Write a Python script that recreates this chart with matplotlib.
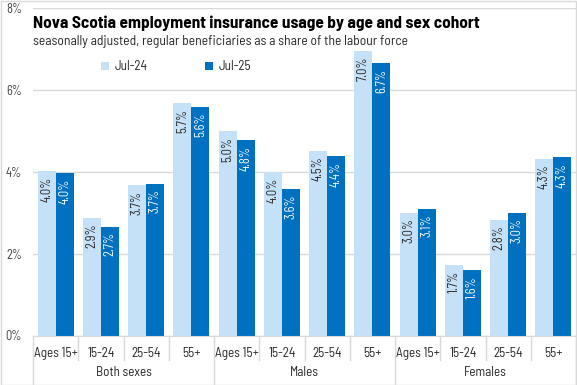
import matplotlib
matplotlib.use("Agg")
import matplotlib.pyplot as plt
import matplotlib.transforms as mtransforms
from matplotlib.patches import Patch, Rectangle
import numpy as np

groups = ["Both sexes", "Males", "Females"]
ages = ["Ages 15+", "15-24", "25-54", "55+"]
series_names = ["Jul-24", "Jul-25"]
jul24 = [4.02, 2.88, 3.68, 5.68, 5.0, 4.0, 4.51, 6.95, 3.0, 1.73, 2.83, 4.32]
jul25 = [3.98, 2.66, 3.71, 5.58, 4.78, 3.58, 4.39, 6.65, 3.1, 1.59, 3.0, 4.35]
labels24 = ["4.0%", "2.9%", "3.7%", "5.7%", "5.0%", "4.0%", "4.5%", "7.0%", "3.0%", "1.7%", "2.8%", "4.3%"]
labels25 = ["4.0%", "2.7%", "3.7%", "5.6%", "4.8%", "3.6%", "4.4%", "6.7%", "3.1%", "1.6%", "3.0%", "4.3%"]
yticks = [0, 2, 4, 6, 8]
ytick_labels = ["0%", "2%", "4%", "6%", "8%"]

c_light = "#C5E1F8"
c_dark = "#0070C0"
FONT = ["Bahnschrift", "Barlow Semi Condensed", "Asap Condensed", "DejaVu Sans"]
plt.rcParams['font.family'] = FONT

W, H = 577, 385
fig = plt.figure(figsize=(W / 100, H / 100), dpi=100)
ax = fig.add_axes([33 / W, (H - 335.5) / H, (576 - 33) / W, (335.5 - 8) / H])

n = len(jul24)
x = np.arange(n)
bw = 0.4
b1 = ax.bar(x - bw / 2, jul24, bw, color=c_light, label=series_names[0], zorder=2)
b2 = ax.bar(x + bw / 2, jul25, bw, color=c_dark, label=series_names[1], zorder=2)

for rect, lab in zip(b1, labels24):
    ax.text(rect.get_x() + rect.get_width() / 2, rect.get_height() - 0.14, lab,
            rotation=90, ha="center", va="top", fontsize=9, color="#262626", zorder=3)
for rect, lab in zip(b2, labels25):
    ax.text(rect.get_x() + rect.get_width() / 2, rect.get_height() - 0.14, lab,
            rotation=90, ha="center", va="top", fontsize=9, color="white", zorder=3)

ax.set_xlim(-0.5, n - 0.5)
ax.set_ylim(0, 8)
ax.set_yticks(yticks)
ax.set_yticklabels(ytick_labels, fontsize=9, color="#404040")
ax.yaxis.grid(True, color="#D9D9D9", linewidth=1, zorder=0)
ax.set_axisbelow(True)
for s in ["top", "right", "left"]:
    ax.spines[s].set_visible(False)
ax.spines["bottom"].set_color("#D9D9D9")
ax.tick_params(axis="y", length=0, pad=8)
ax.tick_params(axis="x", length=0, pad=8)
ax.set_xticks(x)
ax.set_xticklabels(ages * len(groups), fontsize=9.5, color="#262626")

trans = mtransforms.blended_transform_factory(ax.transData, ax.transAxes)
ax_h_px = 335.5 - 8
short = -(360 - 335.5) / ax_h_px
long_ = -(385 - 335.5) / ax_h_px
for i in range(n + 1):
    xb = i - 0.5
    y0 = long_ if i % 4 == 0 else short
    ax.plot([xb, xb], [0, y0], transform=trans, color="#D9D9D9", lw=1, clip_on=False)
for g, name in enumerate(groups):
    ax.text(g * 4 + 1.5, -(373 - 335.5) / ax_h_px, name, transform=trans,
            ha="center", va="center", fontsize=9.5, color="#262626")

fig.text(33 / W, 1 - 23 / H, "Nova Scotia employment insurance usage by age and sex cohort",
         fontsize=12.4, fontweight="bold", color="black", va="center", ha="left")
fig.text(33 / W, 1 - 42 / H, "seasonally adjusted, regular beneficiaries as a share of the labour force",
         fontsize=9.8, color="#262626", va="center", ha="left")

handles = [Patch(facecolor=c_light), Patch(facecolor=c_dark)]
fig.legend(handles, series_names, loc="center left", bbox_to_anchor=(101 / W, 1 - 67 / H),
           ncol=2, frameon=False, fontsize=9.5, handlelength=0.6, handleheight=0.6,
           handletextpad=0.4, columnspacing=4.4, labelcolor="#262626", borderaxespad=0,
           borderpad=0)

fig.patches.append(Rectangle((0.5 / W, 0.5 / H), 1 - 1.5 / W, 1 - 1.5 / H, transform=fig.transFigure,
                             fill=False, edgecolor="#D9D9D9", lw=1))

fig.savefig("out.png", dpi=100)
